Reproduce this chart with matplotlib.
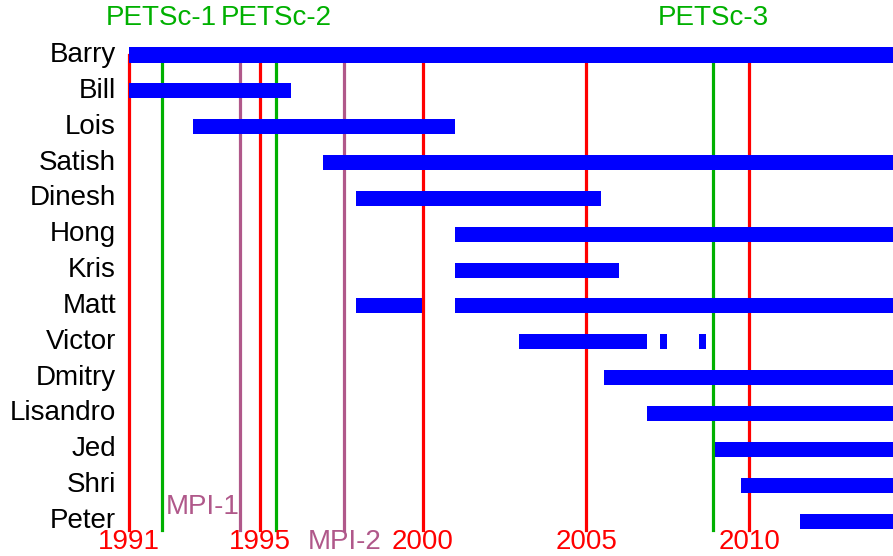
import matplotlib
matplotlib.use('Agg')
import matplotlib.pyplot as plt

plt.rcParams['font.family'] = ['Liberation Sans', 'DejaVu Sans']

# developers, top to bottom, with (start, end) year spans
names = ['Barry', 'Bill', 'Lois', 'Satish', 'Dinesh', 'Hong', 'Kris', 'Matt',
         'Victor', 'Dmitry', 'Lisandro', 'Jed', 'Shri', 'Peter']
spans = [
    [(1991.0, 2015.0)],
    [(1991.0, 1995.95)],
    [(1992.97, 2000.98)],
    [(1996.95, 2015.0)],
    [(1997.95, 2005.47)],
    [(2000.98, 2015.0)],
    [(2000.98, 2006.0)],
    [(1997.95, 1999.97), (2000.98, 2015.0)],
    [(2002.95, 2006.87), (2007.27, 2007.48), (2008.46, 2008.67)],
    [(2005.55, 2015.0)],
    [(2006.87, 2015.0)],
    [(2008.95, 2015.0)],
    [(2009.75, 2015.0)],
    [(2011.55, 2015.0)],
]

year_ticks = [1991, 1995, 2000, 2005, 2010]
petsc_years = [1992.0, 1995.5, 2008.9]
petsc_labels = ['PETSc-1', 'PETSc-2', 'PETSc-3']
mpi_years = [1994.4, 1997.6]
mpi_labels = ['MPI-1', 'MPI-2']

red = '#ff0000'
green = '#00b000'
purple = '#b0588a'
blue = '#0000ff'

fig = plt.figure(figsize=(8.93, 5.56), dpi=100)
ax = fig.add_axes([0, 0, 1, 1])
ax.set_xlim(1987.05, 2014.40)
ax.set_ylim(13.975, -1.534)
ax.axis('off')

n = len(names)
line_bottom = n - 1 + 0.25
fs = 20

for y in year_ticks:
    ax.plot([y, y], [0, line_bottom], color=red, lw=2.3, zorder=1)
    ax.text(y, n - 0.42, str(y), color=red, fontsize=fs, ha='center', va='center')
for y, lab in zip(petsc_years, petsc_labels):
    ax.plot([y, y], [0, line_bottom], color=green, lw=2.3, zorder=1)
    ax.text(y, -1.03, lab, color=green, fontsize=fs, ha='center', va='center')
for y in mpi_years:
    ax.plot([y, y], [0, line_bottom], color=purple, lw=2.3, zorder=1)
ax.text(mpi_years[0], n - 1.4, mpi_labels[0], color=purple, fontsize=fs,
        ha='right', va='center')
ax.text(mpi_years[1], n - 0.42, mpi_labels[1], color=purple, fontsize=fs,
        ha='center', va='center')

for i, (name, segs) in enumerate(zip(names, spans)):
    for a, b in segs:
        ax.barh(i, b - a, left=a, height=0.42, color=blue, zorder=2)
    ax.text(1990.6, i, name, fontsize=fs, ha='right', va='center')

fig.savefig('out.png', dpi=100)
